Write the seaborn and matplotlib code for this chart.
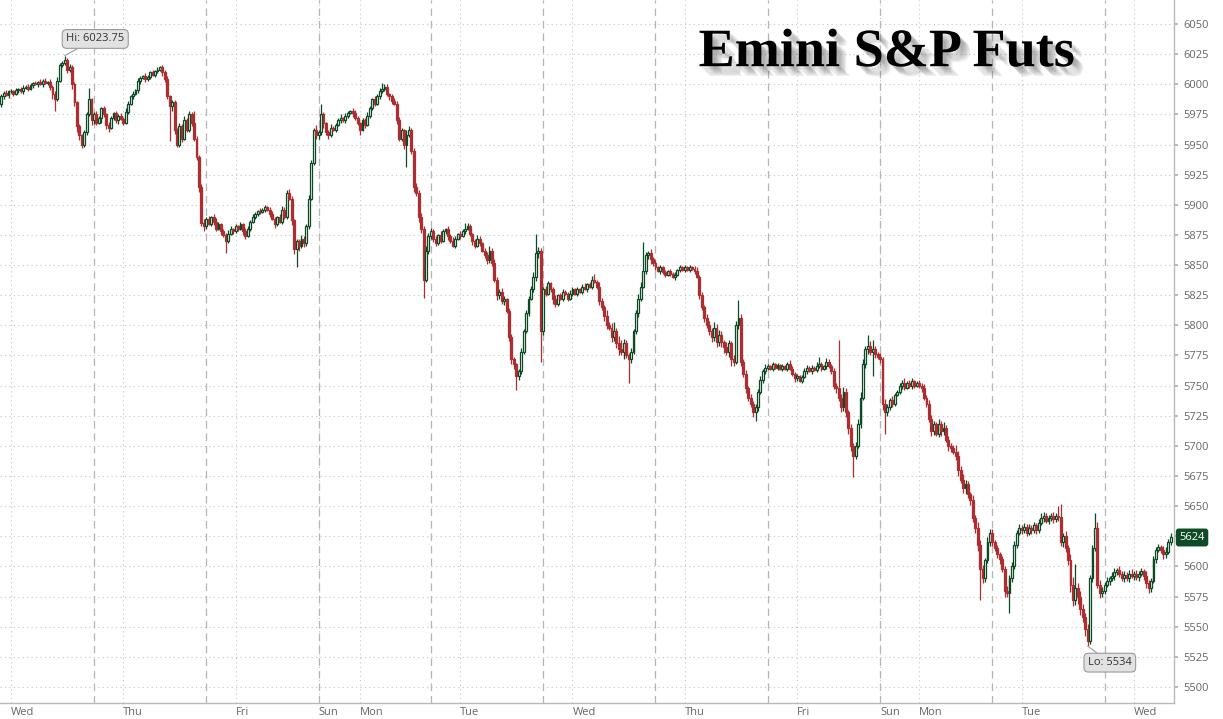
import numpy as np
import pandas as pd
import seaborn as sns
import matplotlib
matplotlib.use("Agg")
import matplotlib.pyplot as plt
import matplotlib.patheffects as pe

# ---- 30-min candles, closes per session ----
first_open = 5984
wed0 = [5990, 5993, 5991, 5994, 5994, 5992, 5995, 5996, 5994, 5997, 5998, 5996, 5999, 6001, 6000, 6002,
        6000, 6003, 6001, 6002, 5998, 5992, 5988, 6003, 6016, 6018, 6020, 6012, 6014, 6000, 5985, 5965,
        5958, 5950, 5960, 5975, 5988, 5970]
thu1 = [5975, 5968, 5972, 5980, 5975, 5966, 5964, 5972, 5976, 5970, 5974, 5971, 5968, 5977, 5984, 5990,
        5992, 5995, 6003, 6005, 6007, 6004, 6006, 6010, 6008, 6011, 6012, 6014, 6010, 6004, 5990, 5982,
        5985, 5962, 5950, 5965, 5955, 5970, 5962, 5975, 5968, 5955, 5940, 5915, 5885, 5882]
fri2 = [5888, 5884, 5890, 5886, 5880, 5884, 5878, 5875, 5870, 5876, 5880, 5878, 5882, 5880, 5884, 5878,
        5874, 5880, 5886, 5890, 5892, 5895, 5894, 5896, 5898, 5896, 5892, 5888, 5884, 5890, 5886, 5896,
        5890, 5910, 5905, 5887, 5863, 5870, 5866, 5872, 5868, 5882, 5905, 5935, 5962, 5958]
sun3 = [5960, 5975, 5968, 5960, 5958, 5964, 5962, 5966, 5970, 5972, 5970, 5974, 5976, 5978, 5976, 5972,
        5968, 5962, 5970, 5966, 5974, 5980, 5988, 5984, 5990, 5994, 5996, 5998, 5992, 5990, 5986, 5984,
        5970, 5955, 5962, 5950, 5958, 5962, 5945, 5915, 5910, 5890, 5880, 5838, 5862, 5874]
tue4 = [5878, 5872, 5868, 5875, 5870, 5878, 5880, 5874, 5870, 5866, 5872, 5876, 5874, 5878, 5880, 5882,
        5876, 5870, 5866, 5872, 5868, 5862, 5858, 5854, 5862, 5852, 5838, 5825, 5828, 5820, 5822, 5812,
        5790, 5772, 5768, 5758, 5762, 5778, 5795, 5810, 5822, 5830, 5840, 5860, 5862, 5795]
wed5 = [5830, 5826, 5835, 5830, 5822, 5818, 5825, 5822, 5828, 5826, 5822, 5826, 5830, 5826, 5830, 5828,
        5832, 5830, 5834, 5832, 5838, 5836, 5832, 5820, 5815, 5808, 5800, 5798, 5790, 5795, 5785, 5780,
        5778, 5785, 5775, 5772, 5778, 5795, 5810, 5822, 5832, 5845, 5858, 5860, 5855, 5852]
thu6 = [5848, 5845, 5848, 5844, 5842, 5845, 5843, 5840, 5842, 5846, 5848, 5846, 5848, 5846, 5848, 5847,
        5845, 5840, 5825, 5815, 5806, 5800, 5795, 5790, 5798, 5786, 5792, 5786, 5782, 5778, 5785, 5772,
        5770, 5800, 5806, 5770, 5760, 5748, 5740, 5735, 5728, 5732, 5745, 5755, 5762, 5765]
fri7 = [5766, 5764, 5768, 5765, 5767, 5764, 5766, 5764, 5768, 5764, 5760, 5756, 5758, 5754, 5757, 5762,
        5765, 5762, 5765, 5763, 5766, 5768, 5764, 5766, 5770, 5766, 5762, 5750, 5748, 5740, 5732, 5745,
        5728, 5715, 5700, 5692, 5700, 5718, 5740, 5768, 5780, 5783, 5778, 5780, 5776, 5774]
sun8 = [5772, 5735, 5728, 5732, 5738, 5735, 5742, 5745, 5750, 5752, 5748, 5752, 5750, 5754, 5750, 5752,
        5750, 5748, 5740, 5735, 5722, 5712, 5718, 5710, 5718, 5712, 5715, 5705, 5700, 5698, 5695, 5692,
        5680, 5672, 5665, 5668, 5660, 5655, 5640, 5632, 5618, 5598, 5590, 5605, 5620, 5628]
mon9 = [5620, 5615, 5610, 5606, 5598, 5580, 5578, 5590, 5600, 5618, 5628, 5632, 5630, 5633, 5628, 5632,
        5630, 5634, 5630, 5636, 5640, 5642, 5638, 5640, 5642, 5639, 5642, 5641, 5620, 5625, 5615, 5605,
        5585, 5572, 5582, 5575, 5565, 5558, 5548, 5538, 5590, 5615, 5632, 5585, 5578, 5580]
tue10 = [5585, 5588, 5590, 5592, 5595, 5597, 5594, 5590, 5593, 5590, 5594, 5592, 5594, 5591, 5594, 5596,
         5592, 5586, 5582, 5588, 5606, 5614, 5616, 5614, 5610, 5612, 5620, 5624]

# upper / lower wick length beyond the body (points)
up0 = [2, 1, 2, 1, 2, 1, 2, 1, 2, 2, 1, 2, 2, 1, 2, 1, 2, 1, 2, 1, 2, 1, 2, 3, 2, 1, 3.75, 2, 3, 2, 2, 1, 2, 1, 2, 2, 9, 1]
lo0 = [3, 2, 1, 2, 1, 2, 1, 2, 1, 2, 1, 2, 1, 2, 1, 2, 1, 2, 1, 2, 3, 4, 10, 2, 1, 2, 2, 3, 2, 4, 3, 5, 4, 3, 2, 2, 1, 4]
up1 = [2, 3, 2, 1, 2, 1, 3, 2, 1, 2, 1, 2, 2, 3, 2, 1, 2, 1, 2, 2, 1, 2, 2, 1, 2, 1, 2, 1, 2, 2, 3, 1, 2,
       2, 2, 3, 2, 4, 2, 3, 2, 10, 2, 1, 2, 3]
lo1 = [3, 2, 1, 4, 2, 3, 4, 1, 2, 2, 3, 1, 2, 1, 2, 1, 2, 1, 2, 3, 1, 2, 1, 2, 1, 2, 2, 1, 3, 2, 2, 29, 4,
       3, 2, 2, 3, 1, 2, 2, 3, 2, 3, 4, 3, 4]
up2 = [2, 3, 1, 2, 3, 2, 1, 2, 2, 3, 2, 1, 2, 1, 2, 1, 3, 2, 1, 2, 2, 1, 2, 1, 2, 1, 2, 3, 2, 1, 2, 3,
       2, 2, 3, 2, 1, 2, 2, 3, 2, 2, 3, 2, 2, 4]
lo2 = [2, 1, 2, 3, 2, 1, 3, 2, 10, 2, 1, 2, 1, 2, 1, 3, 2, 1, 2, 1, 2, 1, 2, 1, 2, 1, 2, 1, 3, 2, 1, 2,
       2, 2, 1, 4, 4, 15, 4, 2, 3, 2, 2, 1, 2, 3]
up3 = [2, 9, 2, 1, 2, 3, 1, 2, 2, 3, 1, 2, 2, 1, 2, 3, 2, 1, 2, 2, 3, 2, 1, 2, 2, 3, 5, 2, 2, 1, 2, 3,
       2, 3, 2, 1, 4, 3, 2, 2, 3, 2, 3, 2, 4, 3]
lo3 = [3, 2, 4, 2, 3, 2, 1, 2, 1, 2, 1, 2, 2, 1, 3, 2, 2, 4, 1, 2, 1, 2, 1, 2, 1, 2, 1, 2, 2, 3, 2, 1,
       3, 2, 2, 4, 19, 2, 3, 4, 3, 4, 3, 15, 2, 3]
up4 = [3, 2, 2, 1, 3, 2, 1, 2, 2, 3, 2, 1, 2, 2, 5, 3, 2, 1, 2, 3, 2, 1, 2, 3, 4, 2, 3, 2, 2, 3, 2, 1,
       2, 3, 2, 1, 2, 3, 2, 3, 2, 3, 4, 16, 3, 2]
lo4 = [2, 3, 2, 1, 2, 1, 2, 3, 2, 1, 2, 1, 2, 1, 2, 1, 2, 3, 2, 1, 2, 1, 2, 3, 2, 3, 2, 4, 3, 2, 3, 2,
       3, 4, 4, 12, 3, 2, 2, 1, 2, 1, 2, 3, 4, 25]
up5 = [2, 3, 2, 1, 2, 3, 1, 2, 2, 1, 2, 3, 2, 1, 2, 1, 2, 3, 1, 2, 3, 5, 2, 4, 3, 2, 5, 3, 4, 8, 3, 6,
       8, 4, 3, 2, 3, 2, 3, 4, 4, 24, 3, 2, 3, 2]
lo5 = [3, 2, 1, 2, 4, 3, 2, 1, 2, 1, 2, 1, 2, 1, 2, 1, 2, 1, 2, 1, 2, 1, 2, 3, 2, 4, 3, 2, 4, 3, 4, 5,
       3, 6, 2, 20, 3, 2, 2, 3, 2, 1, 2, 3, 4, 3]
up6 = [2, 1, 2, 1, 2, 1, 2, 1, 2, 1, 2, 1, 2, 1, 2, 1, 2, 3, 2, 3, 2, 3, 4, 3, 5, 3, 4, 3, 2, 4, 3, 2,
       3, 4, 15, 3, 2, 3, 2, 3, 2, 3, 2, 3, 2, 3]
lo6 = [2, 1, 2, 1, 2, 1, 2, 1, 2, 1, 2, 1, 2, 1, 2, 1, 2, 1, 3, 2, 3, 2, 3, 4, 3, 4, 3, 4, 5, 3, 4, 6,
       4, 2, 3, 4, 3, 4, 3, 3, 4, 7, 3, 2, 3, 2]
up7 = [2, 1, 2, 1, 2, 1, 2, 1, 2, 3, 2, 1, 2, 1, 2, 3, 2, 1, 2, 1, 4, 6, 2, 1, 3, 2, 2, 3, 2, 40, 3, 4,
       3, 2, 3, 2, 3, 4, 5, 4, 3, 9, 4, 8, 3, 2]
lo7 = [2, 1, 2, 1, 2, 1, 2, 1, 2, 1, 2, 3, 2, 1, 2, 1, 2, 1, 2, 1, 2, 1, 2, 1, 2, 1, 2, 3, 4, 3, 4, 3,
       4, 5, 4, 18, 3, 2, 3, 2, 3, 4, 3, 20, 3, 2]
up8 = [3, 2, 4, 3, 2, 3, 2, 1, 2, 3, 4, 2, 3, 2, 1, 2, 3, 2, 3, 2, 3, 4, 3, 2, 4, 3, 5, 2, 3, 2, 3, 6,
       4, 3, 5, 4, 3, 2, 4, 3, 5, 4, 3, 2, 4, 3]
lo8 = [3, 5, 18, 3, 2, 3, 2, 1, 2, 3, 2, 1, 2, 3, 2, 1, 2, 3, 2, 3, 2, 4, 3, 2, 3, 4, 3, 2, 4, 3, 2, 4,
       5, 3, 4, 5, 3, 4, 3, 4, 5, 26, 4, 3, 2, 3]
up9 = [3, 2, 3, 2, 3, 2, 4, 3, 4, 3, 2, 3, 2, 3, 2, 3, 2, 3, 2, 3, 4, 3, 2, 3, 2, 3, 2, 8, 11, 3, 4, 3,
       5, 6, 20, 4, 5, 4, 3, 4, 3, 3, 12, 5, 4, 3]
lo9 = [3, 2, 3, 4, 3, 5, 3, 17, 3, 2, 3, 2, 3, 2, 3, 2, 3, 2, 3, 2, 2, 3, 2, 3, 2, 3, 2, 3, 3, 4, 3, 4,
       6, 5, 4, 6, 5, 4, 6, 4, 2, 3, 2, 3, 4, 3]
up10 = [2, 3, 2, 3, 4, 2, 3, 2, 3, 2, 3, 4, 2, 3, 2, 3, 2, 4, 3, 2, 3, 2, 3, 2, 3, 4, 3, 4]
lo10 = [3, 2, 3, 2, 3, 2, 3, 2, 3, 2, 3, 2, 3, 2, 3, 2, 3, 4, 4, 3, 2, 3, 2, 3, 4, 3, 2, 2]

# session starts (18:00) and day labels, as candle index
session_starts = [38, 84, 130, 176, 222, 268, 314, 360, 406, 452]
day_pos = [4, 50, 96, 130, 147, 188, 234, 280, 326, 360, 376, 418, 464]
day_lbl = ["Wed", "Thu", "Fri", "Sun", "Mon", "Tue", "Wed", "Thu", "Fri", "Sun", "Mon", "Tue", "Wed"]
y_ticks = list(range(5500, 6051, 25))

closes = wed0 + thu1 + fri2 + sun3 + tue4 + wed5 + thu6 + fri7 + sun8 + mon9 + tue10
ups = up0 + up1 + up2 + up3 + up4 + up5 + up6 + up7 + up8 + up9 + up10
los = lo0 + lo1 + lo2 + lo3 + lo4 + lo5 + lo6 + lo7 + lo8 + lo9 + lo10

df = pd.DataFrame({"close": closes, "up": ups, "lo": los})
df["open"] = df["close"].shift(1).fillna(first_open)
df["top"] = df[["open", "close"]].max(axis=1)
df["bot"] = df[["open", "close"]].min(axis=1)
df["high"] = df["top"] + df["up"]
df["low"] = df["bot"] - df["lo"]
df["rise"] = df["close"] >= df["open"]
x = np.arange(len(df))

GREEN = "#0b4a22"
RED = "#ad2e30"

sns.set_theme(style="white")
plt.rcParams["font.family"] = ["Open Sans", "DejaVu Sans"]

fig = plt.figure(figsize=(12.23, 7.19), dpi=100, facecolor="white")
ax = fig.add_axes([0, 16 / 719, 1174 / 1223, 703 / 719])
ax.set_facecolor("white")

# grid
for v in y_ticks:
    ax.axhline(v, color="#c4c4c4", lw=0.8, ls=(0, (1, 3)), zorder=0)
for p in day_pos:
    ax.axvline(p, color="#c4c4c4", lw=0.8, ls=(0, (1, 3)), zorder=0)
for s in session_starts:
    ax.axvline(s, color="#b5b5b5", lw=0.9, ls=(0, (6, 4)), zorder=0)

# candles
cols = np.where(df["rise"], GREEN, RED)
ax.vlines(x, df["low"], df["high"], colors=cols, lw=0.9, zorder=2)
heights = (df["top"] - df["bot"]).clip(lower=0.8)
ax.bar(x, heights, bottom=df["bot"], width=0.78,
       color=np.where(df["rise"], "white", RED), edgecolor=cols, linewidth=0.9, zorder=3)

ax.set_xlim(-0.5, 480.4)
ax.set_ylim(5486.7, 6069.9)

last = closes[-1]
ax.yaxis.tick_right()
ax.set_yticks(y_ticks)
# the last-price tag sits where the 5625 label would be
ax.set_yticklabels(["" if abs(v - last) < 12 else f"{v}" for v in y_ticks])
ax.tick_params(axis="y", labelsize=8, labelcolor="#666666", length=3, color="#b0b0b0", pad=4)
ax.set_xticks(day_pos)
ax.set_xticklabels(day_lbl, ha="left")
ax.tick_params(axis="x", labelsize=8, labelcolor="#666666", length=0, pad=3)
for side in ["left", "top"]:
    ax.spines[side].set_visible(False)
for side in ["right", "bottom"]:
    ax.spines[side].set_color("#b8b8b8")
    ax.spines[side].set_linewidth(1)

# hi / lo callouts
hi_i = int(df["high"].idxmax())
lo_i = int(df["low"].idxmin())
box = dict(boxstyle="round,pad=0.35,rounding_size=0.4", fc="#e2e2e2", ec="#9a9a9a", lw=0.8)
ax.annotate(f"Hi: {df['high'][hi_i]:g}", xy=(hi_i, df["high"][hi_i]), xytext=(22, 12),
            textcoords="offset points", ha="center", va="center", fontsize=8, color="#333333",
            bbox=box, arrowprops=dict(arrowstyle="-", color="#9a9a9a", lw=0.8, shrinkA=0, shrinkB=0))
ax.annotate(f"Lo: {df['low'][lo_i]:g}", xy=(lo_i, df["low"][lo_i]), xytext=(16, -12),
            textcoords="offset points", ha="center", va="center", fontsize=8, color="#333333",
            bbox=box, arrowprops=dict(arrowstyle="-", color="#9a9a9a", lw=0.8, shrinkA=0, shrinkB=0))

# last price tag
ax.annotate(f"{last}", xy=(1, last), xycoords=("axes fraction", "data"), xytext=(13, 0),
            textcoords="offset points", ha="center", va="center", fontsize=8, color="white",
            bbox=dict(boxstyle="round,pad=0.25,rounding_size=0.2", fc="#0d4a26", ec="#0d4a26"),
            annotation_clip=False)

# title with soft shadow
shadow = [pe.SimplePatchShadow(offset=(o, -o), shadow_rgbFace="#555555", alpha=0.1) for o in (2, 3, 4, 5, 6, 7)]
fig.text(0.725, 0.926, "Emini S&P Futs", fontsize=39, fontweight="bold",
         family=["Liberation Serif", "DejaVu Serif"], color="black", ha="center", va="center",
         path_effects=shadow + [pe.Normal()])

fig.savefig("out.png", dpi=100, facecolor="white")
